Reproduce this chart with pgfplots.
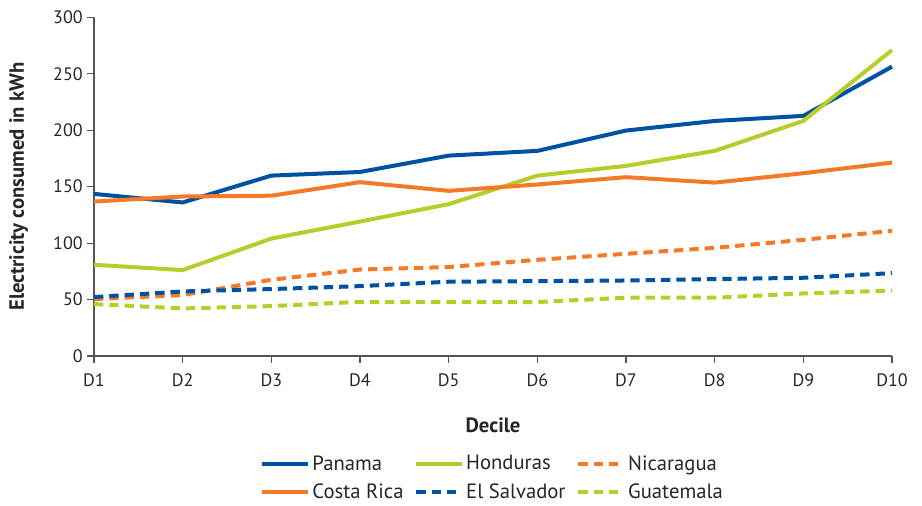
\documentclass[border=0pt]{standalone}
\usepackage{pgfplots}
\pgfplotsset{compat=1.18}
\usepackage{fontspec}
\setmainfont{PT Sans}
\definecolor{cblue}{HTML}{0051A2}
\definecolor{corange}{HTML}{F47A27}
\definecolor{cgreen}{HTML}{B8CC2C}
\definecolor{caxis}{HTML}{555555}
\begin{document}
\begin{tikzpicture}
\path[use as bounding box] (-70.5pt,-112.5pt) rectangle (621pt,267pt);
\begin{axis}[
    scale only axis,
    width=598.5pt, height=254pt,
    xmin=1, xmax=10, ymin=0, ymax=300,
    axis lines=left, axis line style={-, caxis, line width=0.8pt},
    tick style={caxis, line width=0.8pt},
    tick align=outside, major tick length=5pt,
    xtick={1,...,10},
    xticklabels={D1,D2,D3,D4,D5,D6,D7,D8,D9,D10},
    ytick={0,50,...,300},
    /pgf/number format/assume math mode=true,
    ticklabel style={font=\fontsize{13.5}{16}\selectfont, text=black!85},
    xticklabel style={yshift=-5pt},
    xlabel={\textbf{Decile}},
    ylabel={\textbf{Electricity consumed in kWh}},
    label style={font=\fontsize{15.5}{18}\selectfont, text=black!85},
    xlabel style={yshift=-16pt},
    ylabel style={yshift=12pt},
    legend columns=3,
    legend cell align=left,
    legend style={draw=none, at={(0.5,-0.277)}, anchor=north,
        font=\fontsize{15.5}{18}\selectfont, text=black!85,
        /tikz/every even column/.append style={column sep=6pt},
        row sep=5pt},
    legend image code/.code={\draw[#1] (0pt,0pt) -- (34pt,0pt);},
    every axis plot/.append style={line width=3pt},
    clip=false,
]
\addplot[cblue] coordinates {(1,143.6) (2,136) (3,159.8) (4,163) (5,177.5) (6,181.7) (7,199.7) (8,208.2) (9,212.7) (10,256.3)};
\addlegendentry{Panama}
\addplot[cgreen] coordinates {(1,80.8) (2,76.1) (3,104) (4,119.1) (5,134.5) (6,159.8) (7,168.4) (8,181.7) (9,208.2) (10,271)};
\addlegendentry{Honduras}
\addplot[corange, dash pattern=on 7pt off 4.5pt] coordinates {(1,50.4) (2,54) (3,67.5) (4,76.6) (5,78.8) (6,85.2) (7,90.5) (8,95.8) (9,102.9) (10,110.9)};
\addlegendentry{Nicaragua}
\addplot[corange] coordinates {(1,136.8) (2,141.3) (3,142) (4,154) (5,146.3) (6,151.9) (7,158.4) (8,153.6) (9,161.9) (10,171.3)};
\addlegendentry{Costa Rica}
\addplot[cblue, dash pattern=on 7pt off 4.5pt] coordinates {(1,52.2) (2,57.2) (3,59.3) (4,61.9) (5,65.8) (6,66.3) (7,66.9) (8,68.1) (9,69.3) (10,73.4)};
\addlegendentry{El Salvador}
\addplot[cgreen, dash pattern=on 7pt off 4.5pt] coordinates {(1,46) (2,42.1) (3,44.2) (4,48) (5,48) (6,47.8) (7,51.6) (8,51.6) (9,55.4) (10,58)};
\addlegendentry{Guatemala}
\end{axis}
\end{tikzpicture}
\end{document}
